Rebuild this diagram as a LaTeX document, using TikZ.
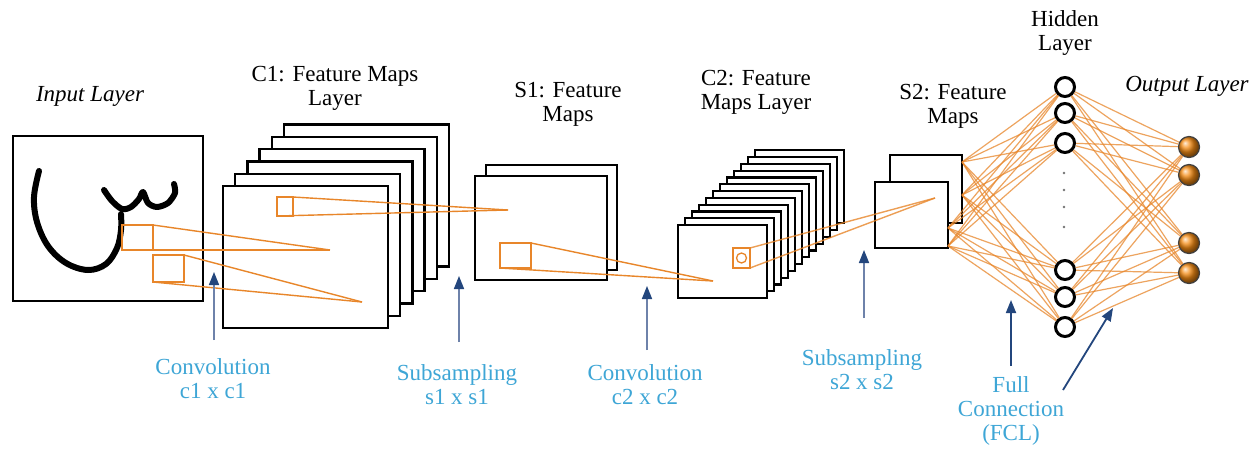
\documentclass[tikz,border=0pt]{standalone}
\usepackage{fontspec}
\setmainfont{Liberation Serif}
\newfontfamily\tms{Liberation Serif}
\usetikzlibrary{arrows.meta,shadings}
\definecolor{lblue}{RGB}{62,166,214}
\definecolor{navy}{RGB}{35,70,125}
\definecolor{stem}{RGB}{110,130,170}
\definecolor{org}{RGB}{232,134,42}
\definecolor{ballc}{RGB}{245,140,20}
\begin{document}
\begin{tikzpicture}[x=1pt,y=-1pt,
 frame/.style={draw=black,fill=white,line width=2.4pt,inner sep=0,outer sep=0,anchor=north west},
 orect/.style={draw=org,line width=1.5pt,inner sep=0,outer sep=0,anchor=north west},
 oline/.style={draw=org,line width=1.4pt},
 nline/.style={draw=org,line width=1.2pt,opacity=0.75},
 lbl/.style={font=\tms\fontsize{23}{24}\selectfont,align=center,inner sep=0},
 ilbl/.style={font=\tms\itshape\fontsize{23}{24}\selectfont,align=center,inner sep=0},
 blbl/.style={lbl,text=lblue},
 uparrow/.style={draw=navy,line width=1.8pt,-{Triangle[length=13pt,width=10pt]}},
 lightarrow/.style={draw=stem,line width=1.6pt,-{Triangle[length=13pt,width=10pt,color=navy,fill=navy]}},
 hid/.style={circle,draw=black,line width=3pt,minimum size=19pt,inner sep=0,fill=white},
 outn/.style={circle,draw=black!75,line width=1.2pt,minimum size=21pt,inner sep=0,ball color=ballc}
]
\useasboundingbox (0,0) rectangle (1260,448);
\fill[white] (0,0) rectangle (1260,448);

% ---------- input layer ----------
\node[frame,line width=2pt,minimum width=190pt,minimum height=165pt] (inp) at (13,136) {};
\draw[line width=6pt,line cap=round,line join=round] plot[smooth,tension=0.6] coordinates
 {(39,171) (34,197) (37,222) (48,246) (66,263) (88,270) (106,264) (117,248) (121,230) (121,214)};
\draw[line width=6pt,line cap=round,line join=round] plot[smooth,tension=0.5] coordinates
 {(104,190) (112,201) (122,209) (131,207) (139,199) (143,192) (148,203) (157,207) (168,203) (175,193) (174,184)};
\node[orect,minimum width=31pt,minimum height=25pt] (r1) at (122,225) {};
\node[orect,minimum width=31pt,minimum height=27pt] (r2) at (153,255) {};

% ---------- C1 ----------
\foreach \i in {5,4,...,0}{
  \node[frame,minimum width=165pt,minimum height=142pt] (c1-\i) at (223+12.2*\i,186-12.3*\i) {};
}
\node[orect,minimum width=16pt,minimum height=19pt] (c1r) at (277,197) {};
\coordinate (ap1) at (330,250);
\coordinate (ap2) at (362,302);

% ---------- S1 ----------
\node[frame,minimum width=131pt,minimum height=105pt] (s1-1) at (486,165) {};
\node[frame,minimum width=132pt,minimum height=104pt] (s1-0) at (475,176) {};
\node[orect,minimum width=31pt,minimum height=25pt] (s1r) at (500,243) {};
\coordinate (ap3) at (508,210);

% ---------- C2 ----------
\foreach \i in {11,10,...,0}{
  \node[frame,line width=2.2pt,minimum width=89pt,minimum height=73pt] (c2-\i) at (678+7*\i,225-6.8*\i) {};
}
\node[orect,minimum width=17pt,minimum height=20pt] (c2r) at (733,248) {};
\node[circle,draw=org,line width=1.3pt,minimum size=10pt,inner sep=0] (c2c) at (741.5,258) {};
\coordinate (ap4) at (713,281);

% ---------- S2 ----------
\node[frame,minimum width=72pt,minimum height=68pt] (s2-1) at (890,155) {};
\node[frame,minimum width=73pt,minimum height=66pt] (s2-0) at (875,182) {};
\coordinate (ap5) at (935,198);

% ---------- orange receptive field lines ----------
\draw[oline] (r1.north east) -- (ap1);
\draw[oline] (r1.south west) -- (ap1);
\draw[oline] (r2.north east) -- (ap2);
\draw[oline] (r2.south west) -- (ap2);
\draw[oline] (c1r.north east) -- (ap3);
\draw[oline] (c1r.south west) -- (ap3);
\draw[oline] (s1r.north east) -- (ap4);
\draw[oline] (s1r.south west) -- (ap4);
\draw[oline,opacity=0.8] (c2r.north east) -- (ap5);
\draw[oline,opacity=0.8] (c2r.south east) -- (ap5);

% ---------- hidden & output layers ----------
\foreach \n/\y in {1/87,2/113,3/143,4/270,5/297,6/327}{
  \node[hid] (h\n) at (1065,\y) {};
}
\foreach \y in {173,190,207,227}{
  \fill[black!55] (1064,\y) circle (1.3pt);
}
\foreach \n/\y in {1/147,2/175,3/243,4/273}{
  \node[outn] (o\n) at (1189,\y) {};
}
\coordinate (p1) at (962,162);
\coordinate (p2) at (962,195);
\coordinate (p3) at (948,228);
\coordinate (p4) at (948,246);
\foreach \p in {p1,p2,p3,p4}{
  \foreach \h in {1,...,6}{
    \draw[nline] (\p) -- (h\h);
  }
}
\foreach \h in {1,...,6}{
  \foreach \o in {1,...,4}{
    \draw[nline] (h\h) -- (o\o);
  }
}

% ---------- titles ----------
\node[ilbl] (tin) at (90,96) {Input Layer};
\node[lbl] (tc1) at (335,88) {C1: Feature Maps\\Layer};
\node[lbl] (ts1) at (568,104) {S1: Feature\\Maps};
\node[lbl] (tc2) at (756,92) {C2: Feature\\Maps Layer};
\node[lbl] (ts2) at (953,106) {S2: Feature\\Maps};
\node[lbl] (thd) at (1065,33) {Hidden\\Layer};
\node[ilbl] (tout) at (1187,86) {Output Layer};

% ---------- blue labels and arrows ----------
\node[blbl] (bc1) at (213,379) {Convolution\\c1 x c1};
\node[blbl] (bs1) at (457,385) {Subsampling\\s1 x s1};
\node[blbl] (bc2) at (645,385) {Convolution\\c2 x c2};
\node[blbl] (bs2) at (862,370) {Subsampling\\s2 x s2};
\node[blbl] (bfc) at (1011,411) {Full\\Connection\\(FCL)};

\coordinate (a1s) at (214,340); \coordinate (a1e) at (214,272);
\coordinate (a2s) at (459,342); \coordinate (a2e) at (459,276);
\coordinate (a3s) at (647,350); \coordinate (a3e) at (647,286);
\coordinate (a4s) at (864,318); \coordinate (a4e) at (864,250);
\coordinate (a5s) at (1011,366); \coordinate (a5e) at (1011,300);
\coordinate (a6s) at (1063,390); \coordinate (a6e) at (1113,308);
\draw[lightarrow] (a1s) -- (a1e);
\draw[lightarrow] (a2s) -- (a2e);
\draw[lightarrow] (a3s) -- (a3e);
\draw[lightarrow] (a4s) -- (a4e);
\draw[uparrow] (a5s) -- (a5e);
\draw[uparrow] (a6s) -- (a6e);
\end{tikzpicture}
\end{document}
